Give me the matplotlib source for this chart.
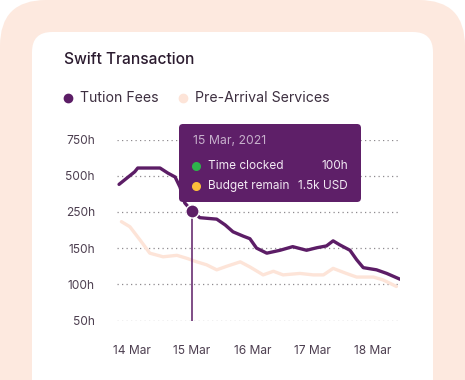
import matplotlib
matplotlib.use("Agg")
import matplotlib.pyplot as plt
import numpy as np
from matplotlib.patches import FancyBboxPatch

plt.rcParams['font.family'] = ['Inter', 'DejaVu Sans']

# ---------------- data ----------------
title = "Swift Transaction"
series_names = ["Tution Fees", "Pre-Arrival Services"]

y_ticks = [50, 100, 150, 250, 500, 750]
y_tick_labels = ["50h", "100h", "150h", "250h", "500h", "750h"]
x_ticks = [0, 1, 2, 3, 4]
x_tick_labels = ["14 Mar", "15 Mar", "16 Mar", "17 Mar", "18 Mar"]

# x in days since 14 Mar
tuition_x = [-0.21, 0.05, 0.10, 0.47, 0.60, 0.72, 0.80, 0.88, 1.00, 1.13, 1.41, 1.55,
             1.68, 1.85, 1.96, 2.07, 2.24, 2.46, 2.67, 2.90, 3.07, 3.23, 3.34, 3.45,
             3.62, 3.73, 3.84, 4.06, 4.23, 4.45]
tuition_y = [440, 527, 553, 553, 518, 491, 422, 312, 255, 234, 230, 214,
             195, 183, 176, 150, 143, 147, 154, 147, 151, 156, 170, 159,
             147, 134, 123, 120, 115, 107]

pre_x = [-0.17, -0.03, 0.14, 0.30, 0.52, 0.75, 0.91, 1.08, 1.24, 1.41, 1.58, 1.80,
         1.96, 2.18, 2.35, 2.51, 2.79, 3.01, 3.18, 3.34, 3.56, 3.73, 4.01, 4.17, 4.39]
pre_y = [223, 209, 172, 143, 138, 140, 136, 131, 127, 120, 125, 131,
         124, 113, 118, 113, 115, 113, 113, 122, 115, 110, 110, 106, 97]

hover_day = 1.0
hover_value = 255
tooltip_date = "15 Mar, 2021"
tooltip_labels = ["Time clocked", "Budget remain"]
tooltip_values = ["100h", "1.5k USD"]

# ---------------- style ----------------
W, H = 465, 380
PURPLE = "#5c1d66"
PEACH_LINE = "#fde4d8"
PEACH_BG = "#fde9df"
TEXT_DARK = "#2b1b2f"
TICK_COLOR = "#4d3f50"

fig = plt.figure(figsize=(W / 100, H / 100), dpi=100, facecolor="white")

# background axes in pixel coordinates
bg = fig.add_axes([0, 0, 1, 1], zorder=0)
bg.set_xlim(0, W)
bg.set_ylim(H, 0)
bg.axis("off")
bg.add_patch(FancyBboxPatch((0, 0), W, H + 60, boxstyle="round,pad=0,rounding_size=46",
                            fc=PEACH_BG, ec="none"))
bg.add_patch(FancyBboxPatch((32, 32), 401, H, boxstyle="round,pad=0,rounding_size=20",
                            fc="white", ec="none"))

# title & legend
bg.text(64, 60, title, fontsize=11.2, color=TEXT_DARK, va="center", ha="left",
        fontweight="medium")
bg.plot([68], [98], "o", ms=6, color=PURPLE)
bg.text(80, 98, series_names[0], fontsize=10.2, color="#3d2f40", va="center", ha="left")
bg.plot([183], [98], "o", ms=6, color=PEACH_LINE)
bg.text(195, 98, series_names[1], fontsize=10.2, color="#3d2f40", va="center", ha="left")

# chart axes
left_px, right_px = 117, 400
top_px, bot_px = 139.5, 320.5
ax = fig.add_axes([left_px / W, (H - bot_px) / H, (right_px - left_px) / W,
                   (bot_px - top_px) / H], zorder=1)
ax.patch.set_alpha(0)

levels = np.arange(len(y_ticks), dtype=float)


def fwd(v):
    return np.interp(v, y_ticks, levels)


def inv(l):
    return np.interp(l, levels, y_ticks)


ax.set_yscale("function", functions=(fwd, inv))
ax.set_ylim(50, 750)
x0 = (left_px - 131.7) / 60.3
x1 = (right_px - 131.7) / 60.3
ax.set_xlim(x0, x1)

ax.set_yticks(y_ticks, y_tick_labels)
ax.set_xticks(x_ticks, x_tick_labels)
ax.yaxis.set_minor_locator(matplotlib.ticker.NullLocator())
ax.tick_params(axis="y", length=0, pad=16, labelsize=8.6, labelcolor=TICK_COLOR)
ax.tick_params(axis="x", length=0, pad=18, labelsize=8.6, labelcolor=TICK_COLOR)
for s in ax.spines.values():
    s.set_visible(False)
ax.grid(axis="y", linestyle=(0, (1, 2.6)), color="#8e8a8f", lw=0.9)
ax.grid(axis="x", visible=False)
ax.set_axisbelow(True)

ax.plot(pre_x, pre_y, color=PEACH_LINE, lw=2.4, solid_joinstyle="round",
        solid_capstyle="round", zorder=2)
ax.plot(tuition_x, tuition_y, color=PURPLE, lw=2.4, solid_joinstyle="round",
        solid_capstyle="round", zorder=3)
ax.plot([hover_day, hover_day], [50, hover_value], color=PURPLE, lw=1.1, zorder=3)
ax.plot([hover_day], [hover_value], "o", ms=9.5, mfc=PURPLE, mec="white", mew=1.0, zorder=4)

# tooltip overlay
ov = fig.add_axes([0, 0, 1, 1], zorder=3)
ov.set_xlim(0, W)
ov.set_ylim(H, 0)
ov.axis("off")
ov.patch.set_alpha(0)
ov.add_patch(FancyBboxPatch((179, 124), 182, 78, boxstyle="round,pad=0,rounding_size=4",
                            fc="#5e1f68", ec="none"))
ov.text(193, 141.5, tooltip_date, fontsize=8.8, color="#c7b0cc", va="center", ha="left")
row_y = [166, 186]
dot_colors = ["#2eb24c", "#fbbf3b"]
for yy, lab, val, dc in zip(row_y, tooltip_labels, tooltip_values, dot_colors):
    ov.plot([195.5], [yy], "o", ms=5.5, color=dc)
    ov.text(207.5, yy, lab, fontsize=8.5, color="#f3eaf4", va="center", ha="left")
    ov.text(348, yy, val, fontsize=8.5, color="#f3eaf4", va="center", ha="right")

fig.savefig("out.png", dpi=100, facecolor="white")
